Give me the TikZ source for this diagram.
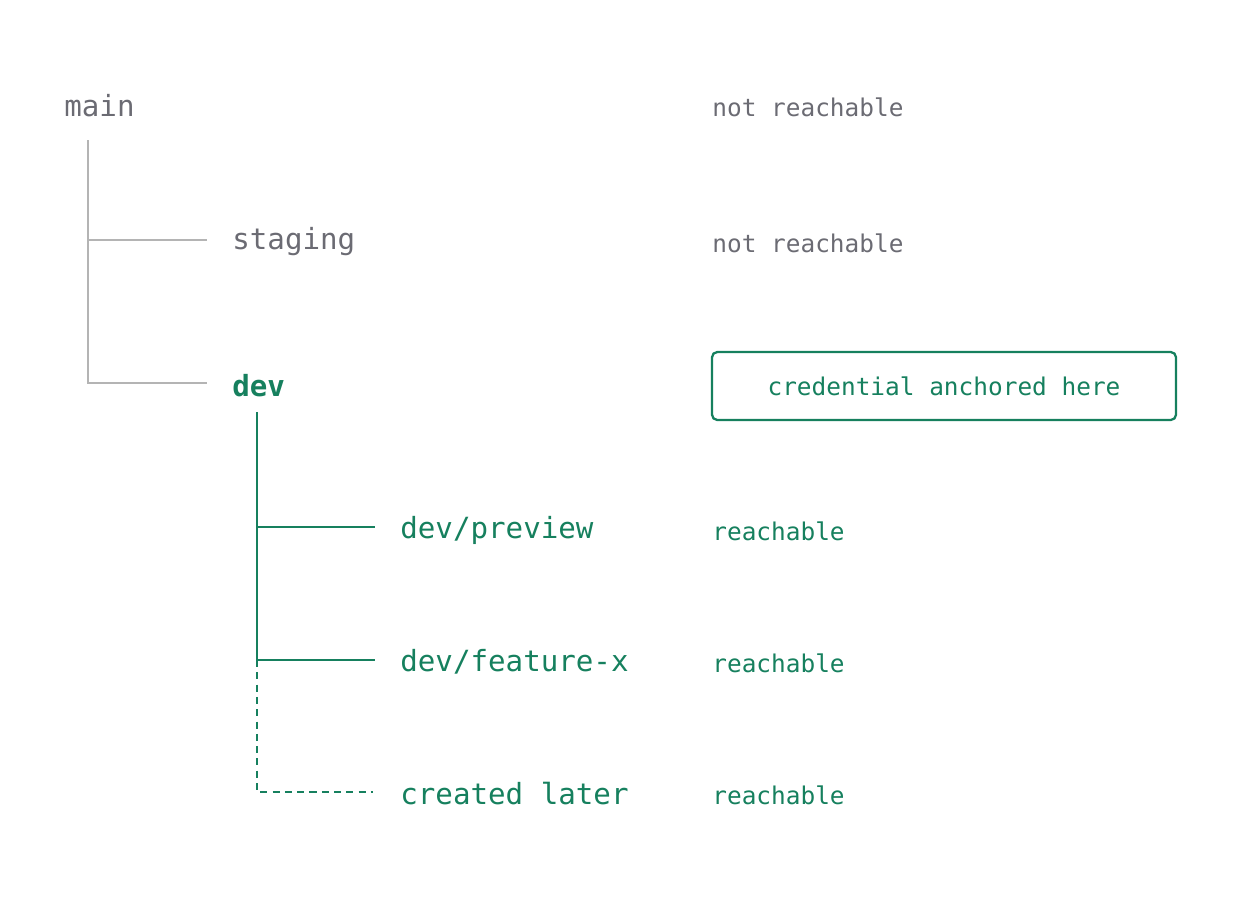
\documentclass[tikz,border=0pt]{standalone}
\usepackage{fontspec}
\setmonofont{DejaVu Sans Mono}
\usepackage{xcolor}
\usetikzlibrary{positioning}
\definecolor{grey}{HTML}{6B6B73}
\definecolor{greyline}{HTML}{B4B4B4}
\definecolor{green}{HTML}{16805E}
\tikzset{
  branch/.style={anchor=west, inner sep=0pt, font=\ttfamily\fontsize{16.6}{19}\selectfont},
  note/.style={anchor=west, inner sep=0pt, font=\ttfamily\fontsize{13.9}{16}\selectfont},
  tree/.style={line width=1.3pt},
}
\begin{document}
\begin{tikzpicture}[x=0.02cm,y=-0.02cm]
        \useasboundingbox (0,0) rectangle (1240,896);
        % Branch names
        \node[branch, text=grey] (main) at (64,106) {main};
        \node[branch, text=grey] (staging) at (232,242) {staging};
        \node[branch, text=green, font=\ttfamily\bfseries\fontsize{16.6}{19}\selectfont] (dev) at (232,386) {dev};
        \node[branch, text=green] (preview) at (400,530) {dev/preview};
        \node[branch, text=green] (feature) at (400,662) {dev/feature-x};
        \node[branch, text=green] (later) at (400,794) {created later};

        % Reachability notes
        \node[note, text=grey] (mainnote) at (712,107) {not reachable};
        \node[note, text=grey] (stagingnote) at (712,243) {not reachable};
        \node[draw=green, line width=1.3pt, rounded corners=3pt, text=green,
              font=\ttfamily\fontsize{13.9}{16}\selectfont,
              minimum width=464*0.02cm, minimum height=68*0.02cm]
              (anchor) at (944,386) {credential anchored here};
        \foreach \n/\y in {previewnote/531, featurenote/663, laternote/795}
            \node[note, text=green] (\n) at (712,\y) {reachable};

        % Gray tree
        \coordinate (gtop) at (88,140);
        \coordinate (gstg) at (88,240);
        \coordinate (gdev) at (88,383);
        \draw[tree, greyline] (gtop) -- (gdev) -- ([xshift=-25*0.02cm]dev.west |- gdev);
        \draw[tree, greyline] (gstg) -- ([xshift=-25*0.02cm]staging.west |- gstg);

        % Green tree
        \coordinate (ttop) at (257,412);
        \coordinate (tpre) at (257,527);
        \coordinate (tfeat) at (257,660);
        \coordinate (tlate) at (257,792);
        \draw[tree, green] (ttop) -- (tfeat) -- ([xshift=-25*0.02cm]feature.west |- tfeat);
        \draw[tree, green] (tpre) -- ([xshift=-25*0.02cm]preview.west |- tpre);
        \draw[tree, green, dash pattern=on 4pt off 3pt] (tfeat) -- (tlate) -- ([xshift=-27*0.02cm]later.west |- tlate);
    \end{tikzpicture}
\end{document}
